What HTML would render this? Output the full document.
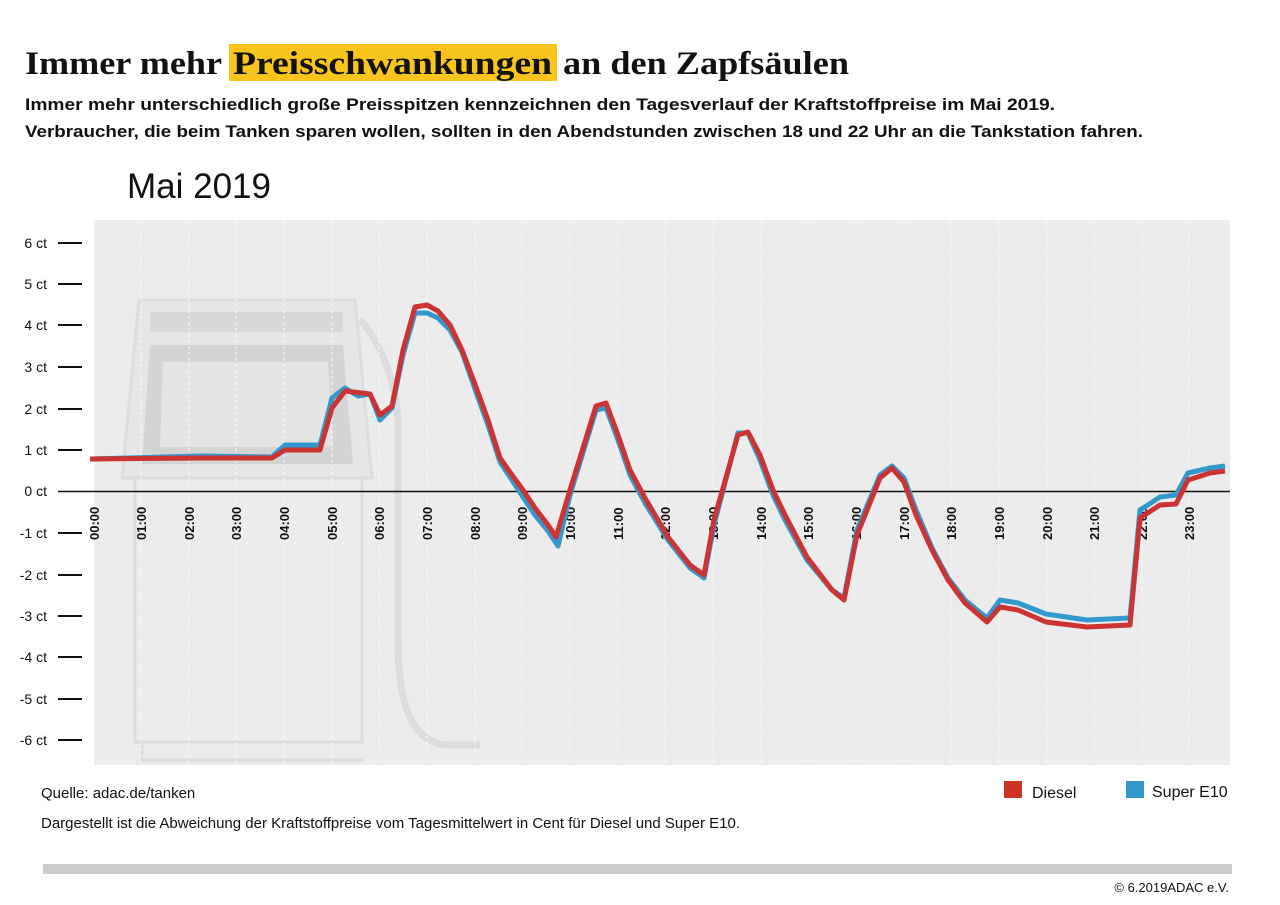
<!DOCTYPE html>
<html><head><meta charset="utf-8"><style>
body{margin:0;width:1280px;height:905px;background:#fff;overflow:hidden}
svg{display:block}
</style></head><body>
<svg width="1280" height="905" xmlns="http://www.w3.org/2000/svg">
<rect x="229" y="44" width="328" height="37" fill="#f9c41c"/>
<g font-family="Liberation Serif, serif" font-weight="bold" font-size="33" fill="#111">
<text x="25" y="74" textLength="197" lengthAdjust="spacingAndGlyphs">Immer mehr</text>
<text x="233" y="74" textLength="319" lengthAdjust="spacingAndGlyphs">Preisschwankungen</text>
<text x="563" y="74" textLength="286" lengthAdjust="spacingAndGlyphs">an den Zapfsäulen</text>
</g>
<text x="25" y="110" font-family="Liberation Sans, sans-serif" font-weight="bold" font-size="17" fill="#111" textLength="1030" lengthAdjust="spacingAndGlyphs">Immer mehr unterschiedlich große Preisspitzen kennzeichnen den Tagesverlauf der Kraftstoffpreise im Mai 2019.</text>
<text x="25" y="137" font-family="Liberation Sans, sans-serif" font-weight="bold" font-size="17" fill="#111" textLength="1118" lengthAdjust="spacingAndGlyphs">Verbraucher, die beim Tanken sparen wollen, sollten in den Abendstunden zwischen 18 und 22 Uhr an die Tankstation fahren.</text>
<text x="127" y="198" font-family="Liberation Sans, sans-serif" font-size="35" fill="#111">Mai 2019</text>
<rect x="94" y="220" width="1136" height="545" fill="#ececec"/>
<g fill="none" stroke="#dcdcdc" stroke-width="3">
<path d="M139 300 L355 300 L372 478 L122 478 Z" fill="#e6e6e6"/>
<rect x="150" y="312" width="193" height="20" fill="#d8d8d8" stroke="none"/>
<path d="M150 345 L343 345 L353 464 L142 464 Z" fill="#d4d4d4" stroke="none"/>
<path d="M163 362 L328 362 L333 447 L160 447 Z" fill="#e4e4e4" stroke="none"/>
<path d="M135 478 L135 742 L362 742 L362 478"/>
<path d="M142 742 L142 760 L362 760"/>
<path d="M360 320 C380 340 395 380 398 420 L398 640 C398 700 410 745 450 745 L480 745" stroke-width="7"/>
</g>
<g stroke="#fafafa" stroke-width="1" stroke-dasharray="3,3">
<line x1="141" y1="220" x2="141" y2="765"/><line x1="189" y1="220" x2="189" y2="765"/><line x1="236" y1="220" x2="236" y2="765"/><line x1="284" y1="220" x2="284" y2="765"/><line x1="332" y1="220" x2="332" y2="765"/><line x1="379" y1="220" x2="379" y2="765"/><line x1="427" y1="220" x2="427" y2="765"/><line x1="475" y1="220" x2="475" y2="765"/><line x1="522" y1="220" x2="522" y2="765"/><line x1="570" y1="220" x2="570" y2="765"/><line x1="618" y1="220" x2="618" y2="765"/><line x1="665" y1="220" x2="665" y2="765"/><line x1="713" y1="220" x2="713" y2="765"/><line x1="761" y1="220" x2="761" y2="765"/><line x1="808" y1="220" x2="808" y2="765"/><line x1="856" y1="220" x2="856" y2="765"/><line x1="904" y1="220" x2="904" y2="765"/><line x1="951" y1="220" x2="951" y2="765"/><line x1="999" y1="220" x2="999" y2="765"/><line x1="1047" y1="220" x2="1047" y2="765"/><line x1="1094" y1="220" x2="1094" y2="765"/><line x1="1142" y1="220" x2="1142" y2="765"/><line x1="1189" y1="220" x2="1189" y2="765"/>
</g>
<g font-family="Liberation Sans, sans-serif" font-size="14" fill="#111" text-anchor="end">
<text x="47" y="248">6 ct</text><text x="47" y="289">5 ct</text><text x="47" y="330">4 ct</text><text x="47" y="372">3 ct</text><text x="47" y="414">2 ct</text><text x="47" y="455">1 ct</text><text x="47" y="496">0 ct</text><text x="47" y="538">-1 ct</text><text x="47" y="580">-2 ct</text><text x="47" y="621">-3 ct</text><text x="47" y="662">-4 ct</text><text x="47" y="704">-5 ct</text><text x="47" y="745">-6 ct</text>
</g>
<g stroke="#111" stroke-width="2">
<line x1="58" y1="243" x2="82" y2="243"/><line x1="58" y1="284" x2="82" y2="284"/><line x1="58" y1="325" x2="82" y2="325"/><line x1="58" y1="367" x2="82" y2="367"/><line x1="58" y1="409" x2="82" y2="409"/><line x1="58" y1="450" x2="82" y2="450"/><line x1="58" y1="533" x2="82" y2="533"/><line x1="58" y1="575" x2="82" y2="575"/><line x1="58" y1="616" x2="82" y2="616"/><line x1="58" y1="657" x2="82" y2="657"/><line x1="58" y1="699" x2="82" y2="699"/><line x1="58" y1="740" x2="82" y2="740"/>
<line x1="58" y1="491.5" x2="1230" y2="491.5" stroke-width="1.5"/>
</g>
<g font-family="Liberation Sans, sans-serif" font-weight="bold" font-size="13" fill="#111">
<text transform="translate(99,540) rotate(-90)">00:00</text><text transform="translate(146,540) rotate(-90)">01:00</text><text transform="translate(194,540) rotate(-90)">02:00</text><text transform="translate(241,540) rotate(-90)">03:00</text><text transform="translate(289,540) rotate(-90)">04:00</text><text transform="translate(337,540) rotate(-90)">05:00</text><text transform="translate(384,540) rotate(-90)">06:00</text><text transform="translate(432,540) rotate(-90)">07:00</text><text transform="translate(480,540) rotate(-90)">08:00</text><text transform="translate(527,540) rotate(-90)">09:00</text><text transform="translate(575,540) rotate(-90)">10:00</text><text transform="translate(623,540) rotate(-90)">11:00</text><text transform="translate(670,540) rotate(-90)">12:00</text><text transform="translate(718,540) rotate(-90)">13:00</text><text transform="translate(766,540) rotate(-90)">14:00</text><text transform="translate(813,540) rotate(-90)">15:00</text><text transform="translate(861,540) rotate(-90)">16:00</text><text transform="translate(909,540) rotate(-90)">17:00</text><text transform="translate(956,540) rotate(-90)">18:00</text><text transform="translate(1004,540) rotate(-90)">19:00</text><text transform="translate(1052,540) rotate(-90)">20:00</text><text transform="translate(1099,540) rotate(-90)">21:00</text><text transform="translate(1147,540) rotate(-90)">22:00</text><text transform="translate(1194,540) rotate(-90)">23:00</text>
</g>
<polyline fill="none" stroke="#3399cc" stroke-width="5" stroke-linejoin="round" points="90,459 200,456 272,457 285,445 320,445 332,398 345,388 358,396 370,394 380,420 392,408 403,355 415,313 427,313 438,318 450,330 462,352 476,392 488,425 500,462 512,480 523,497 535,515 548,531 558,546 570,495 596,410 606,408 618,440 630,475 645,503 668,540 690,568 704,578 714,525 738,433 748,433 760,460 773,495 785,520 807,560 832,590 844,598 857,530 880,475 892,466 904,478 916,510 932,548 948,578 965,600 987,618 1000,600 1018,603 1046,614 1087,620 1130,618 1140,510 1160,497 1176,495 1188,473 1210,468 1225,466"/>
<polyline fill="none" stroke="#cc3333" stroke-width="5" stroke-linejoin="round" points="90,459 200,458 272,458 285,450 320,450 332,408 345,391 370,394 380,415 392,406 403,350 415,307 427,305 438,311 450,325 462,350 476,387 488,420 500,458 512,475 523,490 535,508 548,525 556,537 570,490 596,406 606,403 618,435 630,470 645,498 668,537 690,565 704,575 714,520 738,435 748,432 760,455 773,490 785,515 807,557 832,590 844,600 857,535 880,478 892,468 904,482 916,515 932,550 948,580 965,603 987,622 1000,607 1018,610 1046,622 1087,627 1130,625 1140,518 1160,505 1176,504 1188,480 1210,473 1225,471"/>
<g font-family="Liberation Sans, sans-serif" font-size="15" fill="#111">
<text x="41" y="798">Quelle: adac.de/tanken</text>
<text x="41" y="828">Dargestellt ist die Abweichung der Kraftstoffpreise vom Tagesmittelwert in Cent für Diesel und Super E10.</text>
<rect x="1004" y="781" width="18" height="17" fill="#cc3322"/>
<text x="1032" y="798" font-size="16">Diesel</text>
<rect x="1126" y="781" width="18" height="17" fill="#3399cc"/>
<text x="1152" y="797" font-size="16">Super E10</text>
<rect x="43" y="864" width="1189" height="10" fill="#cccccc"/>
<text x="1229" y="892" font-size="13" text-anchor="end">© 6.2019ADAC e.V.</text>
</g>
</svg>
</body></html>
